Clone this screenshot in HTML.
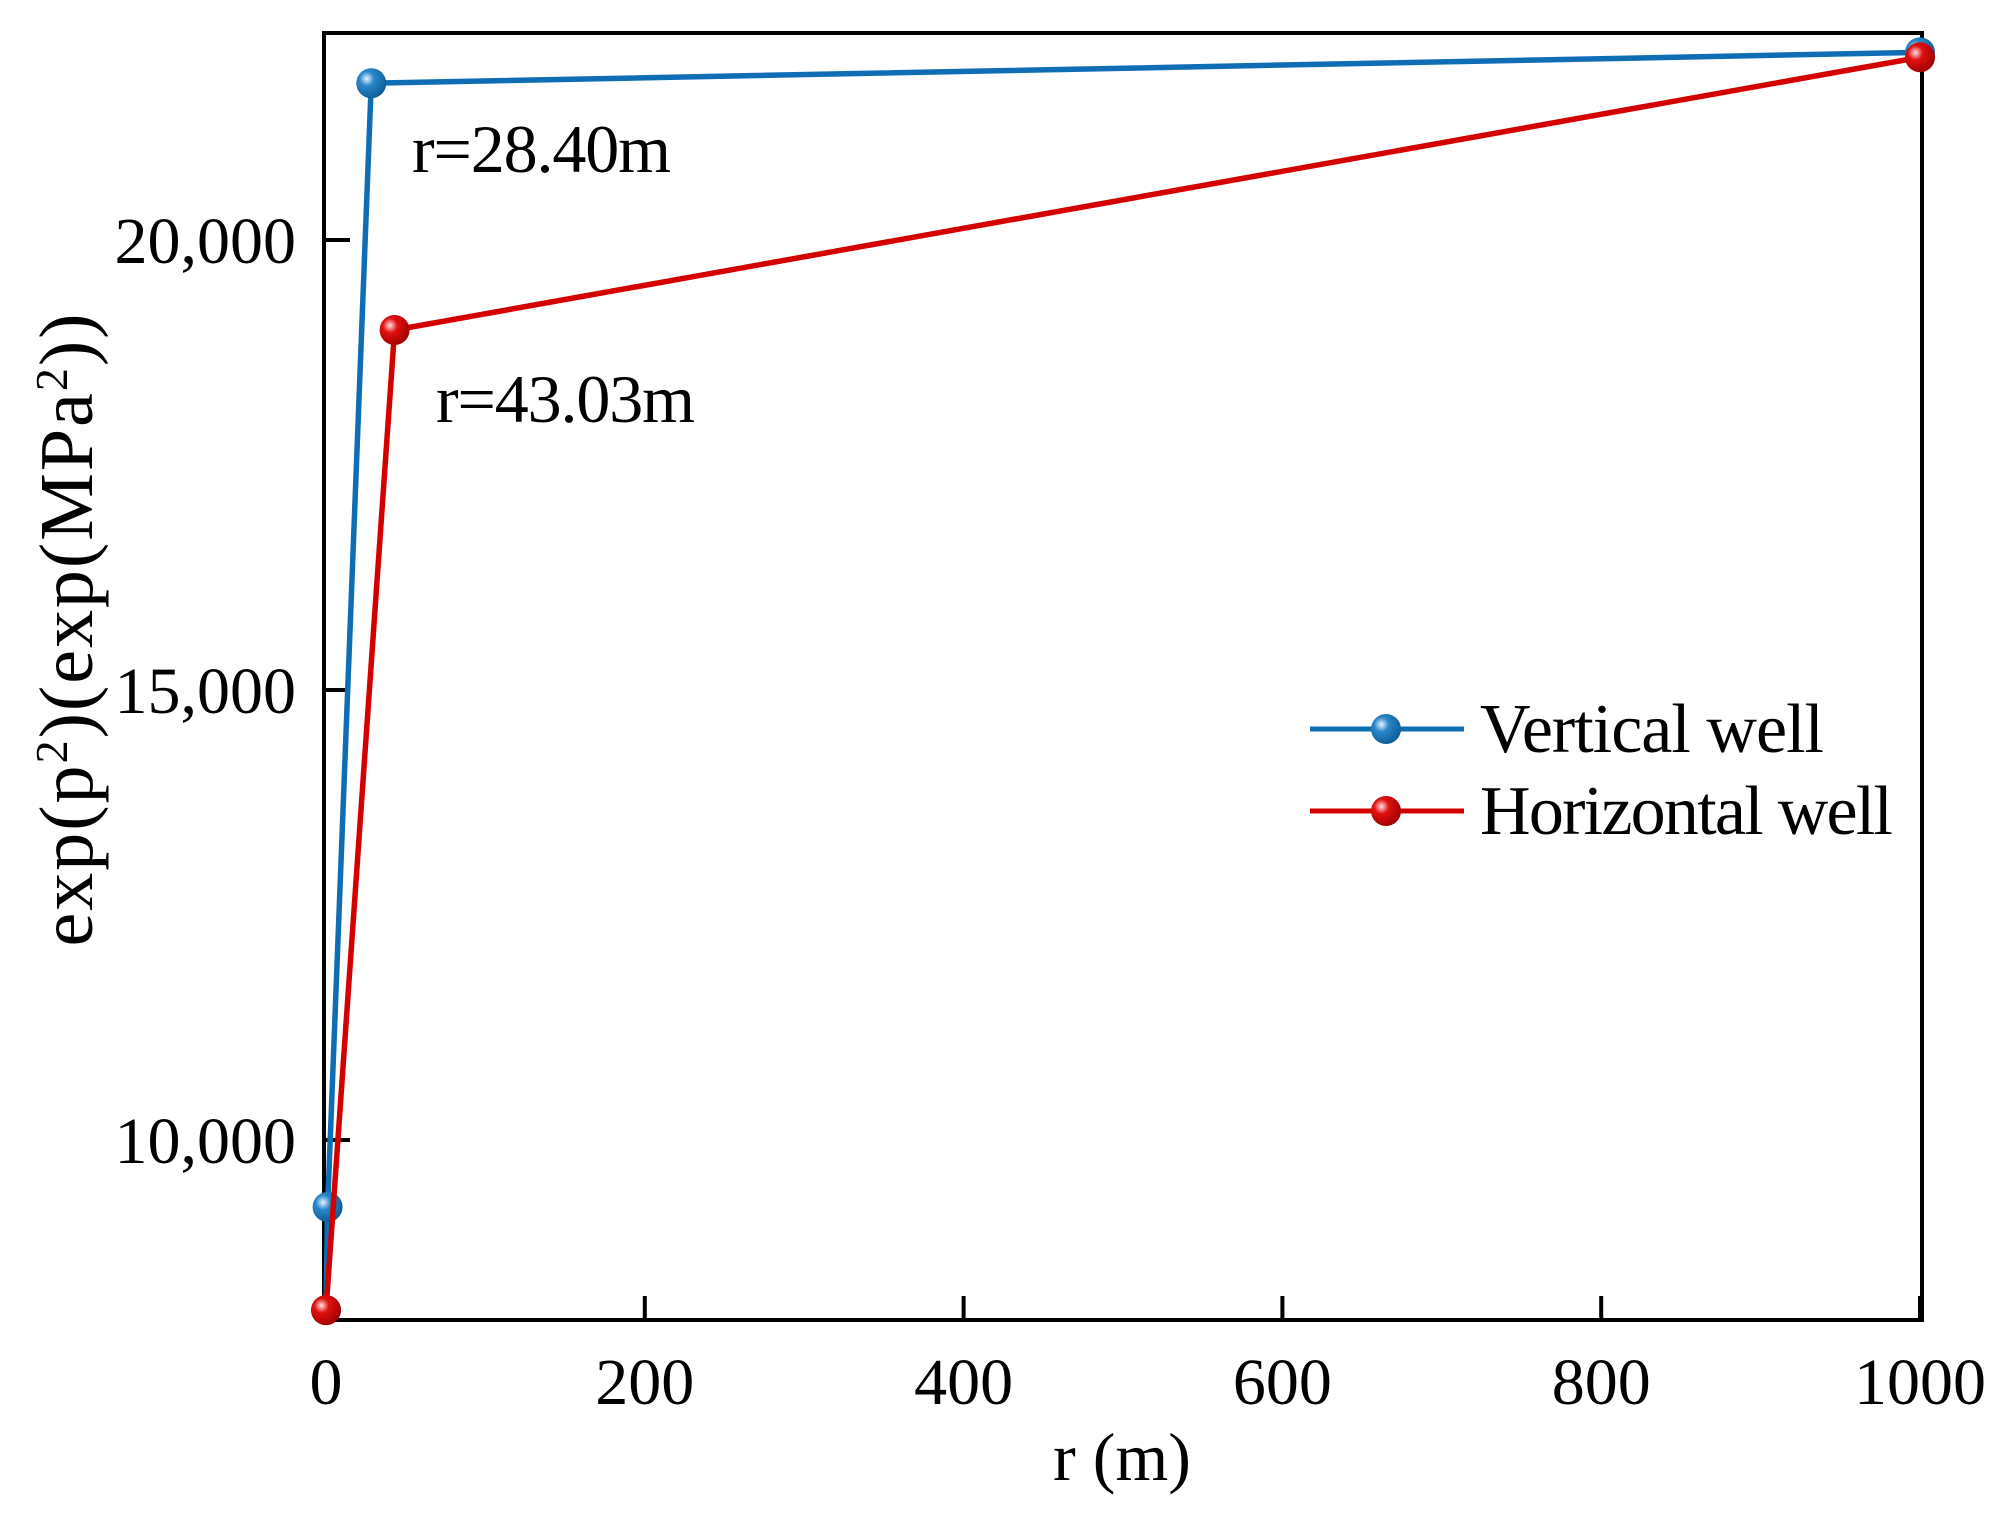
<!DOCTYPE html>
<html><head><meta charset="utf-8"><style>
body{margin:0;background:#fff}
svg{display:block;font-family:"Liberation Serif",serif}
</style></head><body>
<svg id="chart" width="2004" height="1517" viewBox="0 0 2004 1517">
<defs>
<radialGradient id="gb" cx="0.35" cy="0.35" r="0.7"><stop offset="0" stop-color="#e8f4ff"/><stop offset="0.35" stop-color="#2a86c8"/><stop offset="1" stop-color="#0b5c98"/></radialGradient>
<radialGradient id="gr" cx="0.35" cy="0.35" r="0.7"><stop offset="0" stop-color="#ffe0e0"/><stop offset="0.35" stop-color="#e01010"/><stop offset="1" stop-color="#a00000"/></radialGradient>
</defs>
<g id="plot"></g>
<text x="412" y="172" font-size="68" textLength="259" font-family="Liberation Serif,serif">r=28.40m</text>
<text x="436" y="422" font-size="68" textLength="259" font-family="Liberation Serif,serif">r=43.03m</text>
<text x="1122" y="1480" font-size="68" text-anchor="middle" font-family="Liberation Serif,serif">r (m)</text>
<text transform="translate(92,630) rotate(-90)" font-size="76" text-anchor="middle" textLength="633" font-family="Liberation Serif,serif">exp(p<tspan baseline-shift="super" font-size="46">2</tspan>)(exp(MPa<tspan baseline-shift="super" font-size="46">2</tspan>))</text>
<g>
<line x1="1310" x2="1464" y1="729" y2="729" stroke="#0f6db4" stroke-width="5"/>
<circle cx="1386" cy="729" r="15" fill="url(#gb)"/>
<text x="1480" y="752" font-size="70" textLength="344" font-family="Liberation Serif,serif">Vertical well</text>
<line x1="1310" x2="1464" y1="811" y2="811" stroke="#d40000" stroke-width="5"/>
<circle cx="1386" cy="811" r="15" fill="url(#gr)"/>
<text x="1480" y="834" font-size="70" textLength="413" font-family="Liberation Serif,serif">Horizontal well</text>
</g>
</svg>
<script>
const vertX=[0,1,28.4,1000];
const vertY=[8110,9256,21742,22085];
const horX=[0,43.03,1000];
const horY=[8110,19000,22030];
const xTicks=[0,200,400,600,800,1000];
const yTicks=[10000,15000,20000];
const yTickLabels=["10,000","15,000","20,000"];
const xMin=0,xMax=1000,yMin=8000,yMax=22300;
const L=326,R=1920,T=33,B=1320;
const sx=v=>L+(v-xMin)/(xMax-xMin)*(R-L);
const sy=v=>B-(v-yMin)/(yMax-yMin)*(B-T);
const NS="http://www.w3.org/2000/svg";
const g=document.getElementById('plot');
function mk(tag,attrs,parent){const e=document.createElementNS(NS,tag);for(const k in attrs)e.setAttribute(k,attrs[k]);(parent||g).appendChild(e);return e;}
let fr=mk('rect',{x:L-2,y:T,width:R-L+4,height:B-T,fill:'none',stroke:'#000','stroke-width':4});


xTicks.forEach(t=>{
 let l=mk('line',{x1:sx(t),x2:sx(t),y1:B,y2:B-24,stroke:'#000','stroke-width':4});
 
 
 let tx=mk('text',{x:sx(t),y:1404,'font-size':66,'text-anchor':'middle'});tx.textContent=t;
 
 
});
yTicks.forEach((t,i)=>{
 let l=mk('line',{x1:L,x2:L+24,y1:sy(t),y2:sy(t),stroke:'#000','stroke-width':4});
 
 
 let tx=mk('text',{x:296,y:sy(t)+23,'font-size':66,'text-anchor':'end'});tx.textContent=yTickLabels[i];
 
 
});
function series(xs,ys,color,grad,name){
 let p=mk('polyline',{points:xs.map((x,i)=>sx(x)+','+sy(ys[i])).join(' '),fill:'none',stroke:color,'stroke-width':5.5,'stroke-linejoin':'round'});
 
 
 xs.forEach((x,i)=>{
  let c=mk('circle',{cx:sx(x),cy:sy(ys[i]),r:15,fill:'url(#'+grad+')'});
  
  
 });
}
series(vertX,vertY,'#0f6db4','gb','vertical-well');
series(horX,horY,'#d40000','gr','horizontal-well');
</script>
</body></html>
